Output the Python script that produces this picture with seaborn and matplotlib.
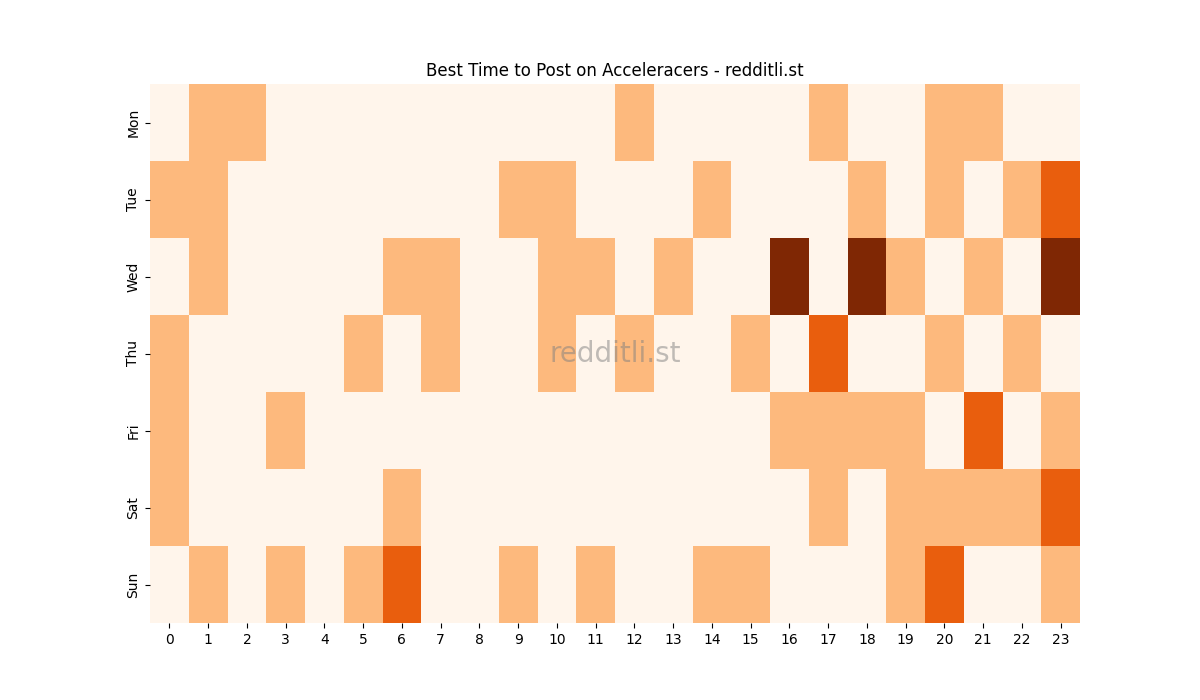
import numpy as np
import pandas as pd
import matplotlib
matplotlib.use("Agg")
import matplotlib.pyplot as plt
import seaborn as sns

# %% DATA
days = ["Mon", "Tue", "Wed", "Thu", "Fri", "Sat", "Sun"]
hours = list(range(24))

mon = [0, 1, 1, 0, 0, 0, 0, 0, 0, 0, 0, 0, 1, 0, 0, 0, 0, 1, 0, 0, 1, 1, 0, 0]
tue = [1, 1, 0, 0, 0, 0, 0, 0, 0, 1, 1, 0, 0, 0, 1, 0, 0, 0, 1, 0, 1, 0, 1, 2]
wed = [0, 1, 0, 0, 0, 0, 1, 1, 0, 0, 1, 1, 0, 1, 0, 0, 3, 0, 3, 1, 0, 1, 0, 3]
thu = [1, 0, 0, 0, 0, 1, 0, 1, 0, 0, 1, 0, 1, 0, 0, 1, 0, 2, 0, 0, 1, 0, 1, 0]
fri = [1, 0, 0, 1, 0, 0, 0, 0, 0, 0, 0, 0, 0, 0, 0, 0, 1, 1, 1, 1, 0, 2, 0, 1]
sat = [1, 0, 0, 0, 0, 0, 1, 0, 0, 0, 0, 0, 0, 0, 0, 0, 0, 1, 0, 1, 1, 1, 1, 2]
sun = [0, 1, 0, 1, 0, 1, 2, 0, 0, 1, 0, 1, 0, 0, 1, 1, 0, 0, 0, 1, 2, 0, 0, 1]

df = pd.DataFrame([mon, tue, wed, thu, fri, sat, sun], index=days, columns=hours)

# %% PLOT
fig, ax = plt.subplots(figsize=(12, 7), dpi=100)
sns.heatmap(df, cmap="Oranges", cbar=False, ax=ax)
ax.set_title("Best Time to Post on Acceleracers - redditli.st")
ax.set_xlabel("")
ax.set_ylabel("")
ax.text(0.5, 0.5, "redditli.st", transform=ax.transAxes, fontsize=20,
        color="grey", alpha=0.5, ha="center", va="center")

fig.savefig("out.png")
